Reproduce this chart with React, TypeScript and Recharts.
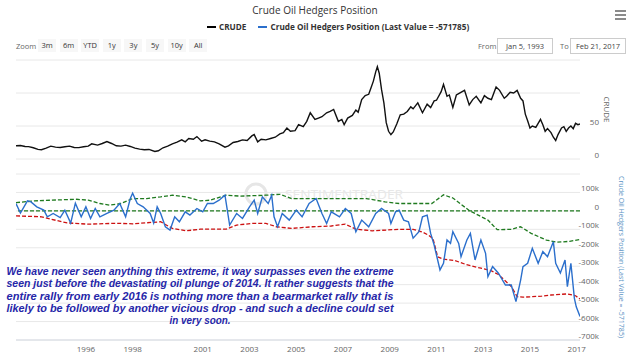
import { CartesianGrid, Line, LineChart, ReferenceLine, XAxis, YAxis } from "recharts";

// [year, price]
const crude: [number, number][] = [
  [1993.01, 20], [1993.2, 20.5], [1993.4, 19], [1993.55, 18.7], [1993.75, 17], [1993.95, 14.5],
  [1994.1, 14], [1994.3, 16.5], [1994.5, 19.5], [1994.7, 18], [1994.9, 17.5],
  [1995.1, 18.5], [1995.3, 19.5], [1995.5, 17.5], [1995.7, 17.2], [1995.9, 18.5],
  [1996.1, 19.5], [1996.25, 23], [1996.5, 21], [1996.7, 23.5], [1996.9, 26.5],
  [1997.1, 23.5], [1997.3, 20], [1997.5, 19.5], [1997.7, 21], [1997.9, 19],
  [1998.1, 16.5], [1998.3, 15], [1998.5, 14], [1998.7, 14.5], [1998.95, 11.5],
  [1999.1, 12.5], [1999.3, 17], [1999.5, 19.5], [1999.7, 23], [1999.9, 25.5],
  [2000.1, 29], [2000.25, 26], [2000.4, 31], [2000.6, 30], [2000.75, 34], [2000.95, 27],
  [2001.1, 29], [2001.3, 27], [2001.5, 26], [2001.7, 23], [2001.95, 18],
  [2002.1, 20], [2002.3, 25], [2002.5, 26.5], [2002.7, 29], [2002.9, 28],
  [2003.1, 35], [2003.2, 37], [2003.35, 26], [2003.5, 30], [2003.7, 29], [2003.9, 31],
  [2004.1, 33], [2004.3, 38], [2004.45, 40], [2004.6, 47], [2004.75, 42], [2004.95, 43],
  [2005.1, 52], [2005.3, 49], [2005.45, 57], [2005.6, 70], [2005.8, 60], [2005.95, 62],
  [2006.1, 64], [2006.3, 70], [2006.45, 72], [2006.6, 75], [2006.8, 57], [2006.95, 60],
  [2007.05, 52], [2007.2, 62], [2007.4, 66], [2007.55, 74], [2007.65, 71], [2007.8, 90], [2007.95, 96],
  [2008.1, 98], [2008.2, 108], [2008.3, 118], [2008.4, 132], [2008.47, 140], [2008.55, 130],
  [2008.65, 105], [2008.75, 85], [2008.85, 55], [2008.95, 42],
  [2009.05, 37], [2009.15, 41], [2009.3, 53], [2009.45, 67], [2009.6, 68], [2009.75, 72], [2009.9, 79],
  [2010.0, 76], [2010.2, 85], [2010.4, 70], [2010.6, 83], [2010.75, 78], [2010.9, 88],
  [2011.0, 89], [2011.2, 102], [2011.3, 113], [2011.45, 95], [2011.55, 97], [2011.7, 78], [2011.85, 97], [2011.95, 99],
  [2012.1, 102], [2012.2, 104], [2012.4, 82], [2012.55, 90], [2012.7, 95], [2012.9, 85],
  [2013.05, 96], [2013.2, 92], [2013.35, 90], [2013.55, 109], [2013.7, 104], [2013.9, 92],
  [2014.0, 95], [2014.15, 101], [2014.3, 100], [2014.45, 104], [2014.6, 92], [2014.7, 88],
  [2014.8, 68], [2014.9, 58], [2015.0, 47],
  [2015.1, 50], [2015.25, 48], [2015.45, 60], [2015.55, 52], [2015.65, 42], [2015.75, 46], [2015.9, 40], [2016.0, 33],
  [2016.1, 28], [2016.2, 37], [2016.35, 47], [2016.45, 49], [2016.55, 42], [2016.65, 47],
  [2016.75, 50], [2016.85, 46], [2016.95, 54], [2017.05, 52], [2017.14, 53],
];

// [year, net position in thousands of contracts]
const hedgers: [number, number][] = [
  [1993.01, 40], [1993.2, -12], [1993.5, 54], [1993.65, 49], [1993.9, 22], [1994.2, 4], [1994.35, -32],
  [1994.6, -14], [1994.9, -36], [1995.1, 4], [1995.35, -66], [1995.55, 42], [1995.8, -32], [1996.0, 22],
  [1996.2, -41], [1996.4, 13], [1996.6, -32], [1996.9, -14], [1997.2, 4], [1997.45, 40], [1997.7, -32],
  [1997.9, 67], [1998.0, 96], [1998.2, 40], [1998.45, 22], [1998.75, -14], [1998.9, -66], [1999.05, 22],
  [1999.2, -14], [1999.4, -86], [1999.6, -104], [1999.8, -32], [2000.0, -59], [2000.25, -5], [2000.45, -23],
  [2000.75, 13], [2001.0, -5], [2001.2, 40], [2001.45, 40], [2001.7, 58], [2001.95, 85], [2002.15, -77],
  [2002.45, -14], [2002.7, -41], [2003.0, 22], [2003.2, 58], [2003.35, -14], [2003.55, 76], [2003.8, 40],
  [2003.95, 85], [2004.05, -32], [2004.2, -86], [2004.4, -14], [2004.7, -50], [2005.0, 4], [2005.25, -32],
  [2005.55, 40], [2005.85, 67], [2006.1, -14], [2006.3, -68], [2006.5, -5], [2006.85, -32], [2007.1, 13],
  [2007.35, -14], [2007.55, -113], [2007.8, -50], [2008.1, -86], [2008.4, -14], [2008.65, 13], [2008.95, -14],
  [2009.05, -68], [2009.25, -5], [2009.4, 4], [2009.6, -50], [2009.8, -59], [2010.0, -148], [2010.25, -113],
  [2010.4, -32], [2010.6, -23], [2010.75, -122], [2010.9, -185], [2011.0, -239], [2011.15, -320],
  [2011.3, -284], [2011.45, -158], [2011.6, -176], [2011.7, -113], [2011.95, -176], [2012.05, -248],
  [2012.3, -158], [2012.45, -122], [2012.65, -266], [2012.9, -158], [2013.1, -230], [2013.2, -357],
  [2013.4, -302], [2013.65, -338], [2013.95, -402], [2014.2, -402], [2014.4, -492], [2014.6, -375],
  [2014.7, -302], [2014.9, -284], [2015.1, -203], [2015.35, -284], [2015.55, -221], [2015.75, -248],
  [2016.0, -167], [2016.1, -284], [2016.3, -337], [2016.5, -266], [2016.6, -411], [2016.75, -284],
  [2016.9, -474], [2016.98, -520], [2017.14, -572],
];

const upperBand: [number, number][] = [
  [1993.01, 45], [1993.8, 54], [1994.5, 58], [1995.6, 63], [1996.1, 58], [1996.6, 40], [1997.0, 31],
  [1997.5, 40], [1998.0, 67], [1998.6, 67], [1999.2, 76], [1999.7, 85], [2000.3, 76], [2000.9, 54],
  [2001.3, 58], [2002.0, 85], [2002.6, 80], [2003.7, 85], [2004.3, 90], [2004.8, 67], [2005.4, 67],
  [2006.0, 67], [2007.1, 67], [2008.0, 67], [2008.8, 49], [2009.4, 40], [2010.2, 40], [2010.8, 40],
  [2011.3, 87], [2011.7, 70], [2012.4, 2], [2013.2, -50], [2013.6, -102], [2014.2, -100], [2014.6, -86],
  [2015.05, -122], [2015.7, -158], [2016.15, -170], [2016.7, -165], [2017.14, -155],
];

const lowerBand: [number, number][] = [
  [1993.01, -27], [1994.1, -32], [1994.5, -45], [1995.2, -65], [1996.1, -72], [1997.3, -67], [1998.0, -70],
  [1999.2, -59], [1999.7, -95], [2000.3, -108], [2000.9, -99], [2001.6, -99], [2002.0, -99], [2002.45, -77],
  [2003.1, -68], [2003.7, -68], [2004.15, -86], [2004.8, -95], [2005.7, -86], [2006.5, -82], [2007.1, -72],
  [2007.55, -99], [2008.25, -108], [2009.4, -100], [2010.0, -100], [2010.4, -115], [2010.65, -131],
  [2010.85, -150], [2011.05, -249], [2011.3, -262], [2011.8, -270], [2012.25, -290], [2012.8, -308],
  [2013.3, -322], [2013.65, -345], [2013.95, -380], [2014.2, -410], [2014.45, -465], [2014.7, -468],
  [2015.5, -462], [2015.9, -456], [2016.6, -450], [2016.95, -460], [2017.14, -478],
];

const yearTicks = [1996, 1998, 2001, 2003, 2005, 2007, 2009, 2011, 2013, 2015, 2017];
const crudeTicks = [0, 50, 100];
const hedgerTicks = [-700, -600, -500, -400, -300, -200, -100, 0, 100, 200];
const zoomButtons = ["3m", "6m", "YTD", "1y", "3y", "5y", "10y", "All"];
const noteLines = [
  "We have never seen anything this extreme, it way surpasses even the extreme",
  "seen just before the devastating oil plunge of 2014. It rather suggests that the",
  "entire rally from early 2016 is nothing more than a bearmarket rally that is",
  "likely to be followed by another vicious drop - and such a decline could set",
  "in very soon.",
];

const X_DOMAIN: [number, number] = [1993.01, 2017.14];
const FONT = "'Open Sans', 'DejaVu Sans', sans-serif";
const BLUE = "#2b6fcc";
const GREEN = "#1f7a1f";
const RED = "#cc1111";
const GRID = "#e8e8e8";

const rows = (pts: [number, number][]) => pts.map(([t, v]) => ({ t, v }));

function RightTick(props: any) {
  const { y, payload, hideValue, fmt } = props;
  if (payload.value === hideValue) return <g />;
  return (
    <text x={599} y={y - 1} textAnchor="end" fontSize={8} fill="#666" fontFamily={FONT}>
      {fmt(payload.value)}
    </text>
  );
}

function AxisTitle(props: any) {
  const { viewBox, value, dx, color, length } = props;
  const cx = viewBox.x + dx;
  const cy = viewBox.y + viewBox.height / 2;
  return (
    <text
      x={cx}
      y={cy}
      transform={`rotate(90 ${cx} ${cy})`}
      textAnchor="middle"
      dominantBaseline="central"
      fontSize={8}
      fill={color}
      fontFamily={FONT}
      textLength={length}
      lengthAdjust="spacingAndGlyphs"
    >
      {value}
    </text>
  );
}

export default function App() {
  const kFmt = (v: number) => (v === 0 ? "0" : `${v}k`);
  return (
    <div
      style={{
        position: "absolute",
        left: 0,
        top: 0,
        width: 630,
        height: 360,
        background: "#fff",
        overflow: "hidden",
        fontFamily: FONT,
      }}
    >
      <div style={{ position: "absolute", top: 3, width: 630, textAlign: "center", fontSize: 10, color: "#333" }}>
        Crude Oil Hedgers Position
      </div>
      <svg width={14} height={12} style={{ position: "absolute", left: 614, top: 9 }}>
        <path d="M1 2 H12 M1 6 H12 M1 10 H12" stroke="#666" strokeWidth={1.5} />
      </svg>

      <div
        style={{
          position: "absolute",
          top: 21,
          left: 207,
          display: "flex",
          gap: 12,
          fontSize: 8.2,
          fontWeight: 700,
          color: "#333",
          whiteSpace: "nowrap",
        }}
      >
        <span style={{ display: "flex", alignItems: "center", gap: 3 }}>
          <span style={{ width: 9, height: 2, background: "#000" }} />
          CRUDE
        </span>
        <span style={{ display: "flex", alignItems: "center", gap: 3 }}>
          <span style={{ width: 9, height: 2, background: BLUE }} />
          Crude Oil Hedgers Position (Last Value = -571785)
        </span>
      </div>

      <div style={{ position: "absolute", top: 41, left: 16, fontSize: 7.5, color: "#666" }}>Zoom</div>
      {zoomButtons.map((b, i) => (
        <div
          key={b}
          style={{
            position: "absolute",
            top: 39,
            left: 38 + i * 21.6,
            width: 18,
            height: 13,
            lineHeight: "13px",
            textAlign: "center",
            fontSize: 7.5,
            color: "#333",
            background: "#f7f7f7",
          }}
        >
          {b}
        </div>
      ))}
      <div style={{ position: "absolute", top: 41, left: 478, fontSize: 7.5, color: "#666" }}>From</div>
      <div
        style={{
          position: "absolute",
          top: 38,
          left: 497,
          width: 54,
          height: 14,
          lineHeight: "14px",
          border: "1px solid #ccc",
          textAlign: "center",
          fontSize: 7.5,
          color: "#444",
        }}
      >
        Jan 5, 1993
      </div>
      <div style={{ position: "absolute", top: 41, left: 560, fontSize: 7.5, color: "#666" }}>To</div>
      <div
        style={{
          position: "absolute",
          top: 38,
          left: 570,
          width: 54,
          height: 14,
          lineHeight: "14px",
          border: "1px solid #ccc",
          textAlign: "center",
          fontSize: 7.5,
          color: "#444",
        }}
      >
        Feb 21, 2017
      </div>

      <div style={{ position: "absolute", left: 0, top: 50 }}>
        <LineChart width={630} height={115} margin={{ top: 10, right: 0, bottom: 6, left: 16 }}>
          <CartesianGrid vertical={false} stroke={GRID} />
          <XAxis type="number" dataKey="t" domain={X_DOMAIN} allowDataOverflow hide />
          <YAxis
            orientation="right"
            width={50}
            domain={[0, 150]}
            ticks={crudeTicks}
            interval={0}
            axisLine={false}
            tickLine={false}
            tick={(p: any) => <RightTick {...p} hideValue={100} fmt={(v: number) => String(v)} />}
            label={(p: any) => <AxisTitle {...p} value="CRUDE" dx={27} color="#666" />}
          />
          <Line
            data={rows(crude)}
            dataKey="v"
            stroke="#111"
            strokeWidth={1.4}
            dot={false}
            isAnimationActive={false}
          />
        </LineChart>
      </div>

      <svg width={630} height={40} style={{ position: "absolute", left: 0, top: 178 }}>
        <circle cx={256} cy={16} r={10} fill="none" stroke="#e6e6e6" strokeWidth={3} />
        <text x={285} y={21} fontSize={12} fill="#e8e8e8" fontFamily={FONT} textLength={118} lengthAdjust="spacingAndGlyphs">
          SENTIMENTRADER
        </text>
      </svg>

      <div style={{ position: "absolute", left: 0, top: 165 }}>
        <LineChart width={630} height={195} margin={{ top: 9, right: 0, bottom: 0, left: 16 }}>
          <CartesianGrid vertical={false} stroke={GRID} />
          <XAxis
            type="number"
            dataKey="t"
            domain={X_DOMAIN}
            allowDataOverflow
            ticks={yearTicks}
            interval={0}
            height={20}
            tickSize={4}
            axisLine={{ stroke: "#d6dbe4" }}
            tickLine={false}
            tick={{ fontSize: 8, fill: "#666", fontFamily: FONT }}
          />
          <YAxis
            orientation="right"
            width={50}
            domain={[-700, 200]}
            ticks={hedgerTicks}
            interval={0}
            axisLine={false}
            tickLine={false}
            tick={(p: any) => <RightTick {...p} hideValue={200} fmt={kFmt} />}
            label={(p: any) => (
              <AxisTitle
                {...p}
                value="Crude Oil Hedgers Position (Last Value = -571785)"
                dx={42}
                color="#5b93c4"
                length={162}
              />
            )}
          />
          <ReferenceLine y={0} stroke={GREEN} strokeWidth={1.3} strokeDasharray="4 2" />
          <Line
            data={rows(upperBand)}
            dataKey="v"
            stroke={GREEN}
            strokeWidth={1.3}
            strokeDasharray="4 2"
            dot={false}
            isAnimationActive={false}
          />
          <Line
            data={rows(lowerBand)}
            dataKey="v"
            stroke={RED}
            strokeWidth={1.3}
            strokeDasharray="4 2"
            dot={false}
            isAnimationActive={false}
          />
          <Line
            data={rows(hedgers)}
            dataKey="v"
            stroke={BLUE}
            strokeWidth={1.4}
            dot={false}
            isAnimationActive={false}
          />
        </LineChart>
      </div>

      <svg width={630} height={360} style={{ position: "absolute", left: 0, top: 0, pointerEvents: "none" }}>
        {noteLines.map((line, i) => (
          <text
            key={i}
            x={200}
            y={275 + i * 12.3}
            textAnchor="middle"
            fontSize={11}
            fontStyle="italic"
            fontWeight={700}
            fill="#2626a8"
            fontFamily="'Liberation Sans', Arial, sans-serif"
            textLength={i < 4 ? 387 : 61}
            lengthAdjust="spacingAndGlyphs"
          >
            {line}
          </text>
        ))}
      </svg>
    </div>
  );
}
